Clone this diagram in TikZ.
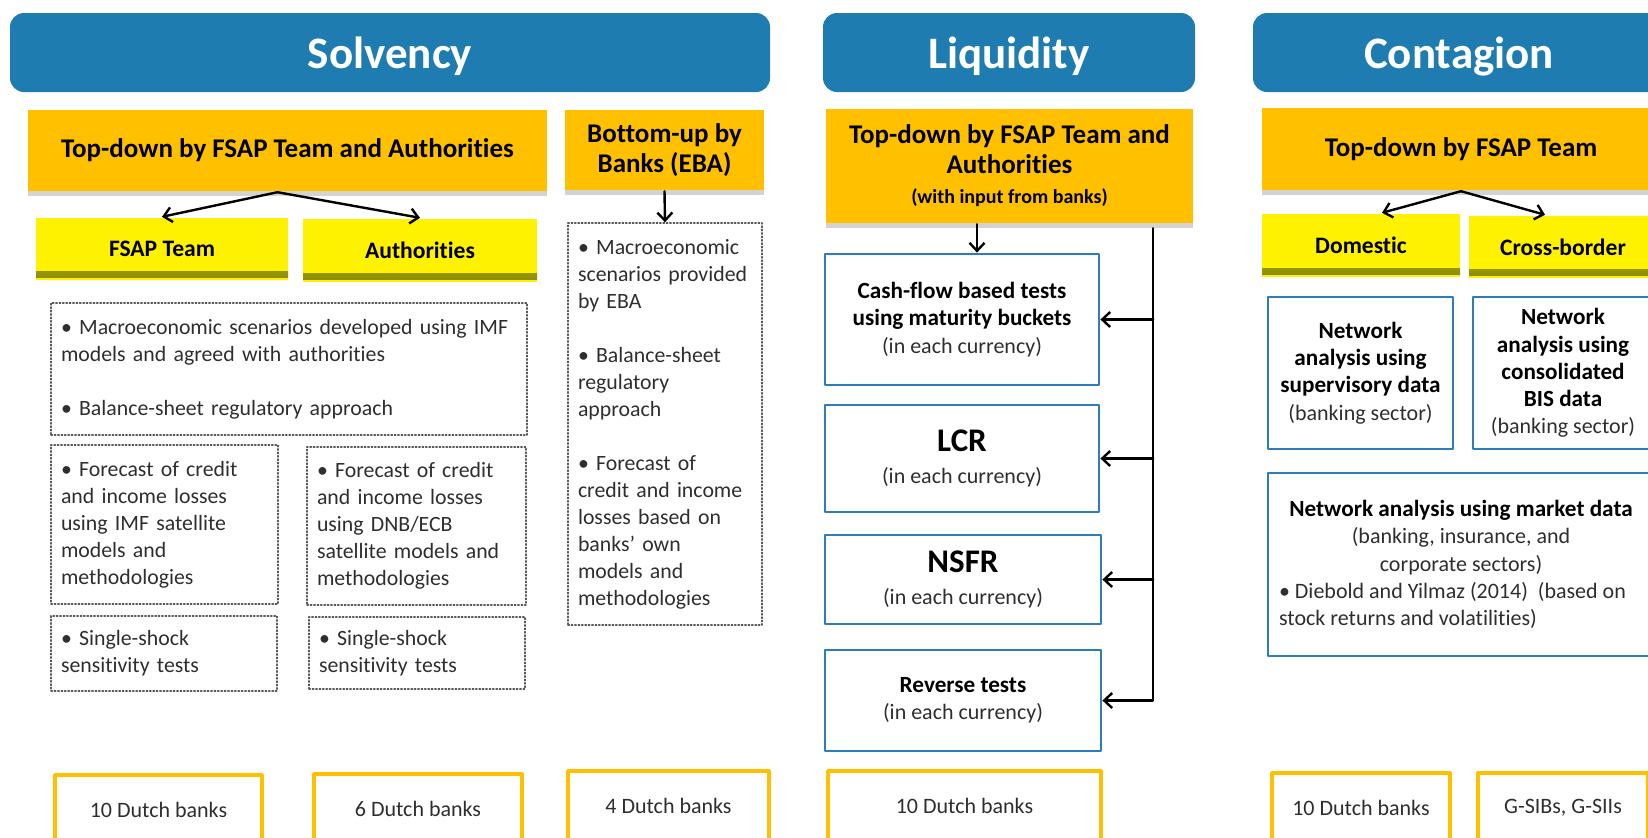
\documentclass[tikz,border=0pt]{standalone}
\usepackage{fontspec}
\setmainfont{Carlito}[Ligatures={NoCommon,NoRare}]
\usetikzlibrary{arrows.meta,shadows}
\definecolor{hdrblue}{HTML}{1F7CB0}
\definecolor{gold}{HTML}{FFC000}
\definecolor{lineblue}{HTML}{2C7DB8}
\definecolor{olivebar}{HTML}{8A8A05}
\definecolor{txtgray}{HTML}{2E2E2E}
\newcommand{\subtxt}[1]{{\fontsize{11}{13.5}\selectfont\mdseries\color{txtgray}#1}}
\begin{document}
\begin{tikzpicture}[x=.5pt,y=-.5pt,line width=1.2pt,>={Straight Barb[length=4pt,width=7.5pt]},
  line cap=round,line join=round,
  headbox/.style={fill=hdrblue,rounded corners=7pt,text=white,
    text height=20.5pt,text depth=4.5pt,
    font=\fontsize{22.5}{24}\selectfont\bfseries},
  methodbox/.style={fill=gold,align=center,
    drop shadow={shadow xshift=0pt,shadow yshift=-2.5pt,opacity=.35},
    font=\fontsize{13.5}{15}\selectfont\bfseries},
  whobox/.style={fill=yellow,font=\fontsize{11.8}{13}\selectfont\bfseries,
    path picture={\shade[top color=yellow!70!olivebar,bottom color=olivebar]
      ([yshift=1.5pt]path picture bounding box.south west) rectangle
      ([yshift=4.5pt]path picture bounding box.south east);}},
  notebox/.style={draw=gray!70!black,line width=.7pt,densely dotted,align=left,
    inner xsep=5pt,text=txtgray,font=\fontsize{10.9}{13.5}\selectfont},
  testbox/.style={draw=lineblue,line width=1.4pt,align=center,
    font=\fontsize{11.6}{13.6}\selectfont\bfseries},
  bankbox/.style={draw=gold,line width=1.6pt,text=txtgray,
    font=\fontsize{11}{12}\selectfont}]
\useasboundingbox (0,0) rectangle (1648,837);
\clip (0,0) rectangle (1648,837);
\node[headbox,minimum width=380pt,minimum height=39.5pt] (solv) at (390,52.5) {Solvency};
\node[headbox,minimum width=186pt,minimum height=39.5pt] (liq) at (1009,52.5) {Liquidity};
\node[headbox,minimum width=206pt,minimum height=39.5pt] (cont) at (1459,52.5) {Contagion};
\node[methodbox,minimum width=259.5pt,minimum height=40.5pt] (sdown) at (287.5,150.5)
  {Top-down by FSAP Team and Authorities};
\node[methodbox,minimum width=99.5pt,minimum height=40pt] (sup) at (664.5,150)
  {Bottom-up by\\Banks (EBA)};
\node[methodbox,minimum width=183.5pt,minimum height=57pt] (ldown) at (1009.5,166)
  {Top-down by FSAP Team and\\Authorities\\{\fontsize{10}{11}\selectfont (with input from banks)}};
\node[methodbox,minimum width=199pt,minimum height=41pt] (cdown) at (1461,149)
  {Top-down by FSAP Team};
\node[whobox,minimum width=126pt,minimum height=31pt] (fsap) at (162,249) {FSAP Team};
\node[whobox,minimum width=117pt,minimum height=31.5pt] (auth) at (420,250.5) {Authorities};
\node[whobox,minimum width=99pt,minimum height=31.5pt] (dom) at (1361,245.5) {Domestic};
\node[whobox,minimum width=94pt,minimum height=31pt] (cross) at (1563,247) {Cross-border};
\node[notebox,text width=228pt,minimum height=66pt] (macro) at (289,369)
  {\textbullet\ Macroeconomic scenarios developed using IMF\\models and agreed with authorities\\[13.5pt]
   \textbullet\ Balance-sheet regulatory approach};
\node[notebox,text width=103.5pt,minimum height=79.5pt] (fcl) at (164.5,524.5)
  {\textbullet\ Forecast of credit\\and income losses\\using IMF satellite\\models and\\methodologies};
\node[notebox,text width=99.5pt,minimum height=79pt] (fcr) at (416.5,526)
  {\textbullet\ Forecast of credit\\and income losses\\using DNB/ECB\\satellite models and\\methodologies};
\node[notebox,text width=103pt,minimum height=37.5pt] (ssl) at (164,653.5)
  {\textbullet\ Single-shock\\sensitivity tests};
\node[notebox,text width=98pt,minimum height=36pt] (ssr) at (417,653)
  {\textbullet\ Single-shock\\sensitivity tests};
\node[notebox,text width=87pt,minimum height=201pt] (eba) at (665,424)
  {\textbullet\ Macroeconomic\\scenarios provided\\by EBA\\[13.5pt]
   \textbullet\ Balance-sheet\\regulatory\\approach\\[13.5pt]
   \textbullet\ Forecast of\\credit and income\\losses based on\\banks' own\\models and\\methodologies};
\node[testbox,minimum width=137pt,minimum height=65.5pt] (cash) at (962,319.5)
  {Cash-flow based tests\\using maturity buckets\\\subtxt{(in each currency)}};
\node[testbox,minimum width=137pt,minimum height=53.5pt] (lcr) at (962,458.5)
  {{\fontsize{16.5}{18}\selectfont LCR}\\[2pt]\subtxt{(in each currency)}};
\node[testbox,minimum width=138pt,minimum height=44.5pt] (nsfr) at (963,579.5)
  {{\fontsize{16.5}{18}\selectfont NSFR}\\[2pt]\subtxt{(in each currency)}};
\node[testbox,minimum width=138pt,minimum height=50.5pt] (rev) at (963,700.5)
  {Reverse tests\\\subtxt{(in each currency)}};
\node[testbox,minimum width=92.5pt,minimum height=76pt] (netsup) at (1360.5,373)
  {Network\\analysis using\\supervisory data\\\subtxt{(banking sector)}};
\node[testbox,minimum width=90pt,minimum height=76pt] (netbis) at (1563,373)
  {Network\\analysis using\\consolidated\\BIS data\\\subtxt{(banking sector)}};
\node[testbox,minimum width=193pt,minimum height=91.5pt,inner xsep=5.5pt] (market) at (1461,564.5)
  {Network analysis using market data\\\subtxt{(banking, insurance, and}\\\subtxt{corporate sectors)}\\
   \makebox[182pt][l]{\subtxt{\textbullet\ Diebold and Yilmaz (2014) \ (based on}}\\
   \makebox[182pt][l]{\subtxt{stock returns and volatilities)}}};
\node[bankbox,minimum width=103.5pt,minimum height=35pt] (b1) at (158.5,810) {10 Dutch banks};
\node[bankbox,minimum width=104pt,minimum height=35pt] (b2) at (418,809) {6 Dutch banks};
\node[bankbox,minimum width=100.5pt,minimum height=35pt] (b3) at (668.5,806) {4 Dutch banks};
\node[bankbox,minimum width=136.5pt,minimum height=35pt] (b4) at (964.5,806) {10 Dutch banks};
\node[bankbox,minimum width=89pt,minimum height=35pt] (b5) at (1361,808) {10 Dutch banks};
\node[bankbox,minimum width=85pt,minimum height=35pt] (b6) at (1563,808) {G-SIBs, G-SIIs};
\draw[->] ([xshift=-5pt]sdown.south) -- (fsap.north);
\draw[->] ([xshift=-5pt]sdown.south) -- (auth.north);
\draw[->] (sup.south) -- (eba.north);
\draw[->] ([xshift=7.5pt]cash.north |- ldown.south) -- ([xshift=7.5pt]cash.north);
\coordinate (lbus) at ([xshift=-20.5pt,yshift=-2pt]ldown.south east);
\draw[->] (lbus) |- (rev.east);
\foreach \t in {cash,lcr,nsfr}
  \draw[->] (lbus |- \t.east) -- (\t.east);
\draw[->] (cdown.south) -- ([xshift=10.5pt]dom.north);
\draw[->] (cdown.south) -- ([xshift=-9pt]cross.north);
\end{tikzpicture}
\end{document}
